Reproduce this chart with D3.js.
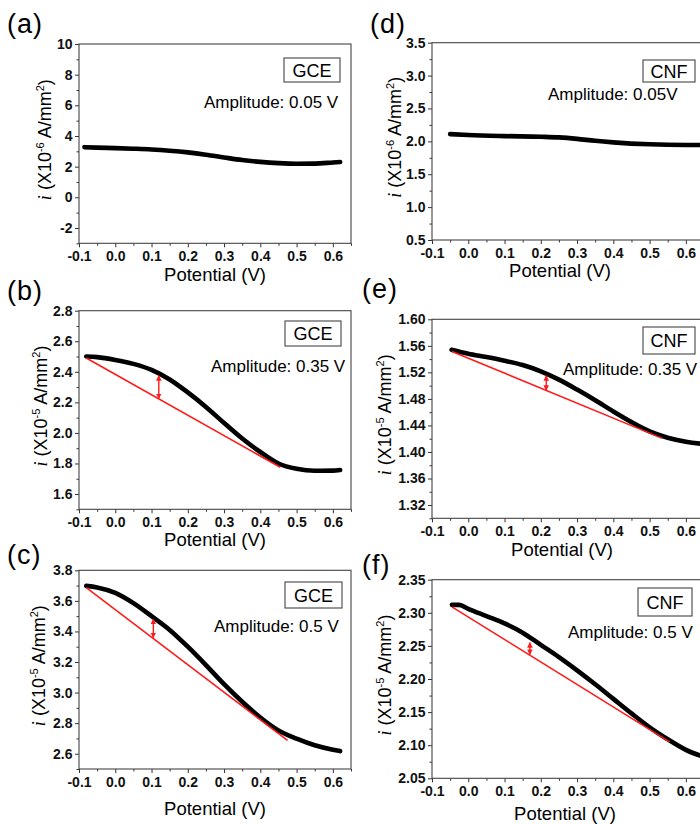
<!DOCTYPE html>
<html><head><meta charset="utf-8">
<script src="https://cdn.jsdelivr.net/npm/d3@7/dist/d3.min.js"></script>
<style>
html,body{margin:0;padding:0;background:#fff;}
svg{display:block;font-family:"Liberation Sans",Arial,Helvetica,sans-serif;}
</style></head>
<body><svg id="chart" width="700" height="824"></svg>
<script>
// ---------------- DATA ----------------
const xTickValues = [-0.1, 0.0, 0.1, 0.2, 0.3, 0.4, 0.5, 0.6];

// (a) GCE, amplitude 0.05 V, current ×10^-6 A/mm^2
const potentialA = [-0.085, -0.05, 0.0, 0.05, 0.1, 0.15, 0.2, 0.25, 0.3, 0.35, 0.4, 0.45, 0.5, 0.55, 0.6, 0.62];
const currentA   = [3.27, 3.24, 3.21, 3.17, 3.12, 3.04, 2.93, 2.78, 2.60, 2.43, 2.31, 2.23, 2.19, 2.20, 2.27, 2.30];
const yTicksA = [-2, 0, 2, 4, 6, 8, 10];

// (d) CNF, amplitude 0.05 V, current ×10^-6 A/mm^2
const potentialD = [-0.05, 0.0, 0.1, 0.2, 0.25, 0.3, 0.35, 0.4, 0.5, 0.6, 0.67];
const currentD   = [2.11, 2.096, 2.08, 2.07, 2.06, 2.038, 2.008, 1.985, 1.955, 1.945, 1.945];
const yTicksD = [0.5, 1.0, 1.5, 2.0, 2.5, 3.0, 3.5];

// (b) GCE, amplitude 0.35 V, current ×10^-5 A/mm^2
const potentialB = [-0.08, -0.05, 0.0, 0.05, 0.1, 0.15, 0.2, 0.25, 0.3, 0.35, 0.4, 0.45, 0.5, 0.55, 0.6, 0.62];
const currentB   = [2.50, 2.496, 2.478, 2.452, 2.413, 2.35, 2.265, 2.17, 2.065, 1.963, 1.875, 1.80, 1.765, 1.752, 1.753, 1.757];
const baselineB  = [[-0.08, 2.49], [0.455, 1.775]];
const arrowB     = [0.12, 2.225, 2.375];
const yTicksB = [1.6, 1.8, 2.0, 2.2, 2.4, 2.6, 2.8];

// (e) CNF, amplitude 0.35 V, current ×10^-5 A/mm^2
const potentialE = [-0.046, 0.0, 0.05, 0.1, 0.15, 0.2, 0.25, 0.3, 0.35, 0.4, 0.45, 0.5, 0.55, 0.6, 0.67];
const currentE   = [1.554, 1.548, 1.543, 1.5375, 1.531, 1.5215, 1.509, 1.494, 1.478, 1.461, 1.445, 1.431, 1.4215, 1.4155, 1.411];
const baselineE  = [[-0.045, 1.5515], [0.535, 1.4205]];
const arrowE     = [0.215, 1.493, 1.515];
const yTicksE = [1.32, 1.36, 1.40, 1.44, 1.48, 1.52, 1.56, 1.60];

// (c) GCE, amplitude 0.5 V, current ×10^-5 A/mm^2
const potentialC = [-0.08, -0.05, 0.0, 0.05, 0.1, 0.15, 0.2, 0.25, 0.3, 0.35, 0.4, 0.45, 0.5, 0.55, 0.6, 0.62];
const currentC   = [3.698, 3.688, 3.652, 3.585, 3.50, 3.41, 3.30, 3.18, 3.055, 2.94, 2.837, 2.752, 2.698, 2.655, 2.626, 2.617];
const baselineC  = [[-0.08, 3.687], [0.475, 2.687]];
const arrowC     = [0.105, 3.36, 3.48];
const yTicksC = [2.6, 2.8, 3.0, 3.2, 3.4, 3.6, 3.8];

// (f) CNF, amplitude 0.5 V, current ×10^-5 A/mm^2
const potentialF = [-0.045, -0.025, 0.0, 0.05, 0.1, 0.15, 0.2, 0.25, 0.3, 0.35, 0.4, 0.45, 0.5, 0.55, 0.6, 0.67];
const currentF   = [2.312, 2.312, 2.306, 2.295, 2.284, 2.27, 2.2515, 2.233, 2.213, 2.192, 2.170, 2.148, 2.127, 2.109, 2.093, 2.079];
const baselineF  = [[-0.045, 2.309], [0.555, 2.105]];
const arrowF     = [0.17, 2.237, 2.255];
const yTicksF = [2.05, 2.10, 2.15, 2.20, 2.25, 2.30, 2.35];

const panelLabels = ["(a)", "(b)", "(c)", "(d)", "(e)", "(f)"];
const electrodes  = ["GCE", "GCE", "GCE", "CNF", "CNF", "CNF"];
const amplitudes  = ["Amplitude: 0.05 V", "Amplitude: 0.35 V", "Amplitude: 0.5 V",
                     "Amplitude: 0.05V", "Amplitude: 0.35 V", "Amplitude: 0.5 V"];
const exponents   = ["-6", "-5", "-5", "-6", "-5", "-5"];
const xTitle = "Potential (V)";

// ---------------- LAYOUT ----------------
const panels = [
  {x:potentialA, y:currentA, yt:yTicksA, ydom:[-3,10], yfmt:".0f", minorStep:1,
   fr:[79,44,351,243.3], lab:[7,33], box:[284,58,56,24], amp:[204,108], xt:281, xc:215, yt_x:51},
  {x:potentialB, y:currentB, yt:yTicksB, ydom:[1.5,2.8], yfmt:".1f", minorStep:0.1, base:baselineB, arr:arrowB,
   fr:[79,310.7,351,509.3], lab:[7,300], box:[285,321,56,25], amp:[211,372], xt:546, xc:215, yt_x:47},
  {x:potentialC, y:currentC, yt:yTicksC, ydom:[2.5,3.8], yfmt:".1f", minorStep:0.1, base:baselineC, arr:arrowC,
   fr:[79,570.3,351,769], lab:[7,564], box:[285,582,57,26], amp:[214,632], xt:815, xc:215, yt_x:45},
  {x:potentialD, y:currentD, yt:yTicksD, ydom:[0.5,3.5], yfmt:".1f", minorStep:0.25,
   fr:[432,42.7,704,240], lab:[370,33], box:[643,60,52,22], amp:[548,100], xt:277, xc:560, yt_x:401},
  {x:potentialE, y:currentE, yt:yTicksE, ydom:[1.30,1.60], yfmt:".2f", minorStep:0.02, base:baselineE, arr:arrowE,
   fr:[432,319.3,704,518.3], lab:[362,298], box:[643,327,52,27], amp:[563,375], xt:556, xc:562, yt_x:391},
  {x:potentialF, y:currentF, yt:yTicksF, ydom:[2.05,2.35], yfmt:".2f", minorStep:0.025, base:baselineF, arr:arrowF,
   fr:[432,579.7,704,778.3], lab:[362,574], box:[638,588,54,28], amp:[568,638], xt:820, xc:565, yt_x:391}
];

const svg = d3.select("#chart");
const defs = svg.append("defs");
defs.append("marker").attr("id","ah").attr("viewBox","0 0 10 10").attr("refX",9).attr("refY",5)
  .attr("markerWidth",4).attr("markerHeight",4).attr("orient","auto-start-reverse")
  .append("path").attr("d","M0,0 L10,5 L0,10 z").attr("fill","#ff1a1a");

const hy = s => s.replace("\u2212","-");

panels.forEach((p, i) => {
  const [x0, y0, x1, y1] = p.fr;
  const xs = d3.scaleLinear().domain([-0.1, 0.65]).range([x0, x1]);
  const ys = d3.scaleLinear().domain(p.ydom).range([y1, y0]);
  const g = svg.append("g");

  const cid = "clip" + i;
  defs.append("clipPath").attr("id", cid).append("rect")
    .attr("x", x0).attr("y", y0).attr("width", x1 - x0).attr("height", y1 - y0);

  // minor ticks
  const xMinor = d3.range(-0.05, 0.66, 0.1);
  g.append("g").attr("transform", `translate(0,${y1})`)
    .call(d3.axisBottom(xs).tickValues(xMinor).tickSize(2.5).tickFormat(""))
    .call(a => a.select(".domain").remove());
  const yMinor = [];
  for (let v = p.ydom[0]; v <= p.ydom[1] + 1e-9; v += p.minorStep) {
    const vv = +v.toFixed(4);
    if (!p.yt.some(t => Math.abs(t - vv) < 1e-6)) yMinor.push(vv);
  }
  g.append("g").attr("transform", `translate(${x0},0)`)
    .call(d3.axisLeft(ys).tickValues(yMinor).tickSize(2.5).tickFormat(""))
    .call(a => a.select(".domain").remove());

  // major axes
  const xa = g.append("g").attr("transform", `translate(0,${y1})`)
    .call(d3.axisBottom(xs).tickValues(xTickValues).tickSize(4).tickPadding(4)
      .tickFormat(d => hy(d3.format(".1f")(d))));
  xa.select(".domain").remove();
  const ya = g.append("g").attr("transform", `translate(${x0},0)`)
    .call(d3.axisLeft(ys).tickValues(p.yt).tickSize(4).tickPadding(2.5)
      .tickFormat(d => hy(d3.format(p.yfmt)(d))));
  ya.select(".domain").remove();
  g.selectAll(".tick line").attr("stroke", "#333").attr("stroke-width", 1);
  g.selectAll(".tick text").attr("fill", "#111").style("font-size", "14px")
    .style("font-weight", "bold").style("font-family", '"Liberation Sans",Arial,sans-serif');

  // frame
  g.append("rect").attr("x", x0).attr("y", y0).attr("width", x1 - x0).attr("height", y1 - y0)
    .attr("fill", "none").attr("stroke", "#444").attr("stroke-width", 1.1);

  // data curve
  const pts = p.x.map((v, k) => [v, p.y[k]]);
  const line = d3.line().x(d => xs(d[0])).y(d => ys(d[1])).curve(d3.curveMonotoneX);
  g.append("path").attr("clip-path", `url(#${cid})`).datum(pts).attr("d", line)
    .attr("fill", "none").attr("stroke", "#000").attr("stroke-width", 4.6)
    .attr("stroke-linecap", "round").attr("stroke-linejoin", "round");

  // baseline + arrow
  if (p.base) {
    g.append("path").datum(p.base).attr("d", d3.line().x(d => xs(d[0])).y(d => ys(d[1])))
      .attr("stroke", "#ff1a1a").attr("stroke-width", 1.6).attr("fill", "none");
    const [ax, ya1, ya2] = p.arr;
    g.append("line").attr("x1", xs(ax)).attr("x2", xs(ax)).attr("y1", ys(ya1)).attr("y2", ys(ya2))
      .attr("stroke", "#ff1a1a").attr("stroke-width", 1.4)
      .attr("marker-start", "url(#ah)").attr("marker-end", "url(#ah)");
  }

  // electrode box
  const [bx, by, bw, bh] = p.box;
  g.append("rect").attr("x", bx).attr("y", by).attr("width", bw).attr("height", bh)
    .attr("fill", "#fff").attr("stroke", "#444").attr("stroke-width", 1.1);
  g.append("text").attr("x", bx + bw / 2).attr("y", by + bh / 2 + 6.5).attr("text-anchor", "middle")
    .style("font-size", "18px").text(electrodes[i]);

  // amplitude
  g.append("text").attr("x", p.amp[0]).attr("y", p.amp[1]).style("font-size", "17px").text(amplitudes[i]);

  // panel label
  g.append("text").attr("x", p.lab[0]).attr("y", p.lab[1]).style("font-size", "27px")
    .style("letter-spacing", "1px").text(panelLabels[i]);

  // x title
  g.append("text").attr("x", p.xc).attr("y", p.xt).attr("text-anchor", "middle")
    .style("font-size", "18.5px").text(xTitle);

  // y title
  const cy = (y0 + y1) / 2 - 4;
  const t = g.append("text").attr("transform", `translate(${p.yt_x},${cy}) rotate(-90)`)
    .attr("text-anchor", "middle").style("font-size", "18px");
  t.append("tspan").style("font-style", "italic").style("font-family", '"Liberation Serif",serif').text("i");
  t.append("tspan").text(" (X10");
  t.append("tspan").attr("dy", -7).style("font-size", "11px").text(exponents[i]);
  t.append("tspan").attr("dy", 7).text(" A/mm");
  t.append("tspan").attr("dy", -7).style("font-size", "11px").text("2");
  t.append("tspan").attr("dy", 7).text(")");
});
</script></body></html>
